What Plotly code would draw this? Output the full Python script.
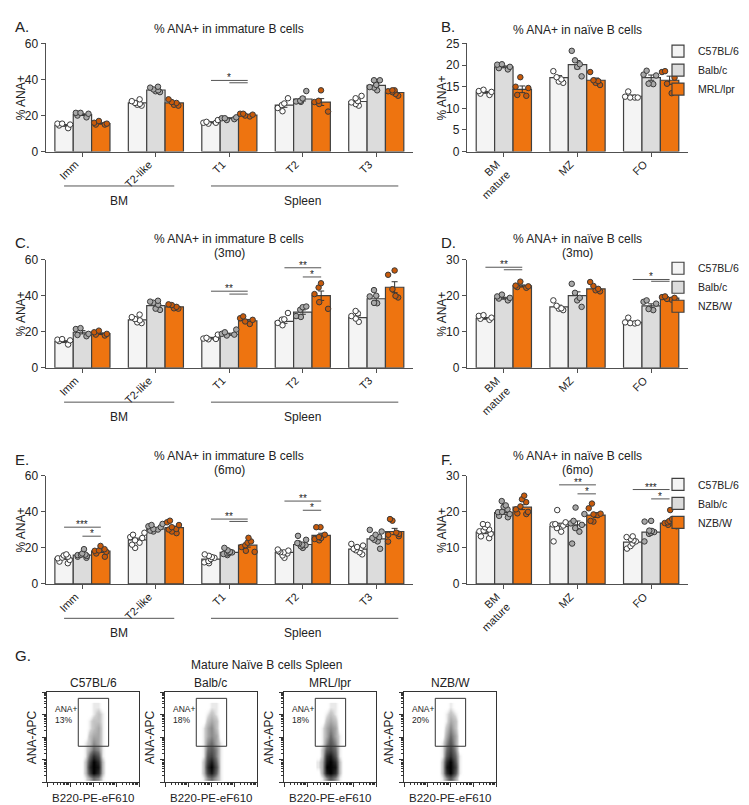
import numpy as np
import plotly.graph_objects as go

W, H = 749, 805
FONT = "Liberation Sans, Arial, sans-serif"

# ---------------- data ----------------
cats_imm = ["Imm", "T2-like", "T1", "T2", "T3"]
cats_naive = ["BM<br>mature", "MZ", "FO"]
strains_mrl = ["C57BL/6", "Balb/c", "MRL/lpr"]
strains_nzb = ["C57BL/6", "Balb/c", "NZB/W"]

# Panel A
A_c57 = [14.5, 27.0, 16.2, 25.8, 27.8]
A_balb = [20.5, 34.2, 18.5, 29.2, 36.8]
A_mrl = [15.6, 27.0, 20.2, 27.5, 32.8]
A_c57_pts = [[15.5, 15, 14.5, 15.5, 13], [29, 28, 27, 26, 25.5, 26.5], [17.5, 16.5, 16, 16, 15.5],
             [29.6, 26.7, 25.8, 24.2, 22.4], [30.9, 29.6, 28, 27.3, 26.4, 25.5]]
A_balb_pts = [[21.5, 21.5, 21, 20, 19], [36, 35.5, 34.5, 34, 33.5, 33], [19, 18.5, 18.5, 18, 17.5],
              [33.6, 29.5, 28.2, 27.8, 27.6], [39.6, 39.6, 37, 35.8, 35.5, 34]]
A_mrl_pts = [[17, 16, 15.5, 15, 15], [29, 27.5, 27, 26, 25.5], [21, 21, 20.5, 20, 19.5],
             [34, 28.2, 27.5, 26.4, 22.2], [34, 34, 33.5, 33, 32, 31]]

# Panel B
B_c57 = [13.7, 17.1, 12.8]
B_balb = [19.6, 20.1, 17.1]
B_mrl = [14.4, 16.5, 16.5]
B_c57_pts = [[14.3, 14, 13.8, 13.4, 13.1], [18.6, 17.2, 16.7, 16.2, 15.9], [13.9, 12.7, 12.5, 12.5, 12.5]]
B_balb_pts = [[20.2, 20.1, 19.6, 19.3, 19], [23.3, 21.1, 20.2, 19.6, 17.4], [18.7, 17.8, 17.6, 15.7, 15.6]]
B_mrl_pts = [[17.2, 15, 14.7, 13.1, 12.9], [18.4, 16.5, 16.3, 15.9, 15.4], [18.4, 18.6, 17.1, 15.7, 13.5]]

# Panel C (3mo)
C_c57 = [14.5, 26.6, 16.4, 25.8, 27.8]
C_balb = [19.7, 34.5, 18.6, 30.9, 38.3]
C_nzb = [18.9, 33.8, 26.1, 40.0, 44.7]
C_c57_pts = [[15.9, 15.2, 14.8, 12.9, 15.6], [29.5, 28.1, 27, 26.3, 25.2, 24.8], [18.4, 16.6, 16, 15.8, 16.2],
             [30.4, 26.9, 26.7, 24.9, 23.6], [31.5, 30.2, 28.7, 27.3, 25.5]]
C_balb_pts = [[22, 21.5, 18.8, 18.2, 17.5], [37.2, 36.7, 36.1, 35, 32.8, 32.1], [21.2, 19.7, 18.4, 17.9, 18.8],
              [34, 33.6, 32.2, 28.7, 28.2], [43.1, 40, 39.6, 36, 35.8]]
C_nzb_pts = [[20.6, 19.7, 18.8, 18.4, 17.9], [35.2, 34.8, 33.8, 33, 32.8], [28.5, 27.5, 26.6, 25.7, 24.3],
             [46.9, 44.5, 40.9, 36.4, 32.7], [54, 51.6, 43.6, 39.9, 39]]

# Panel D (3mo)
D_c57 = [13.7, 16.9, 12.6]
D_balb = [19.3, 20.0, 17.2]
D_nzb = [22.7, 21.9, 19.3]
D_c57_pts = [[14.6, 14.4, 13.9, 13.3, 13.6], [18.7, 17.2, 16.5, 16, 16.4], [13.9, 12.6, 12.4, 12.3, 12.5]]
D_balb_pts = [[20.3, 19.8, 19.2, 18.7, 19.4], [23.3, 20.8, 19.4, 18.7, 16.9], [18.7, 18.3, 17.8, 16.3, 16]]
D_nzb_pts = [[23.9, 22.8, 22.4, 22.6, 22.2], [23.8, 22.7, 21.9, 21.2, 21.5], [19.8, 19.6, 19.4, 18.9, 19.1]]

# Panel E (6mo)
E_c57 = [14.2, 24.4, 13.8, 17.5, 19.3]
E_balb = [16.0, 30.5, 17.5, 21.9, 25.0]
E_nzb = [18.2, 31.2, 21.5, 27.0, 29.1]
E_c57_pts = [[16.4, 15.8, 15.1, 14.6, 14.2, 13.3, 12.4, 11.5], [28.4, 27.3, 26, 25.5, 24.2, 22.9, 21.8, 20],
             [16.4, 15.6, 14.9, 14.5, 13.8, 12.7, 12, 11.5], [19.1, 18.5, 18.2, 17.6, 16.9, 15.8, 14.5, 17.5],
             [22.2, 21.3, 20.5, 20, 18.7, 17.6, 16.4, 19.5]]
E_balb_pts = [[19.3, 16.9, 16.3, 16, 15.5, 15.1, 14.5, 16.2], [33.3, 32.7, 32, 31.5, 30.2, 29.6, 29.1, 30.5],
              [20, 18.7, 17.8, 17.5, 16.9, 16.6, 16, 17.2], [26.7, 24.5, 22.7, 21.8, 20.9, 20, 21.5, 22.5],
              [30, 29.1, 27.3, 26, 23.6, 19.5, 24.5, 25.5]]
E_nzb_pts = [[21.1, 19.3, 18.4, 17.8, 16.9, 15.1, 18.6], [35.1, 34.2, 32.7, 31.5, 30.2, 29.1, 28.2, 30.5],
             [25.6, 23.6, 22.9, 20.5, 18.4, 17.8, 21.5], [31.5, 31.5, 27.3, 26, 24.9, 25.5, 24.2],
             [36, 35.1, 27.8, 26.5, 27.3, 28.5, 23.5]]

# Panel F (6mo)
F_c57 = [14.4, 16.0, 11.6]
F_balb = [19.8, 16.4, 14.4]
F_nzb = [21.3, 19.1, 16.9]
F_c57_pts = [[16.6, 16.4, 15.7, 15.1, 14.6, 13.9, 13.2, 12.7, 14.8], [20.5, 17.1, 16.6, 16.2, 15.5, 14.5, 11.8, 16.5],
             [13.2, 13, 12.1, 11.8, 11.2, 10.5, 9.8, 12.5]]
F_balb_pts = [[23, 21.8, 21.4, 20.7, 20, 19.4, 18.9, 18.5, 19.9], [21.2, 19.4, 17.5, 16.4, 15.5, 14.5, 11.2, 16.8],
              [17.5, 17.3, 14.8, 14.4, 13.9, 11.8, 14.2, 14.7]]
F_nzb_pts = [[24.5, 23.5, 22.7, 20.7, 20, 19.6, 19.4, 21.5], [22.3, 21, 19.5, 19.3, 19.1, 17.5, 17.3],
             [20.5, 18, 17.5, 16.9, 16.4, 16, 17.1]]

# significance: (category index, long-line value, long label, short-line value, short label)
A_sig = [(2, 39.5, "*", 38.2, "")]
C_sig = [(2, 42.5, "**", 40.9, ""), (3, 55.5, "**", 50.4, "*")]
D_sig = [(0, 27.9, "**", 27.2, ""), (2, 24.5, "*", 24.0, "")]
E_sig = [(0, 31.5, "***", 26.5, "*"), (2, 36.0, "**", 34.7, ""), (3, 46.0, "**", 40.9, "*")]
F_sig = [(1, 27.5, "**", 25.0, "*"), (2, 26.2, "***", 23.6, "*")]

# flow cytometry density grids, rows bottom -> top
flow_names = ["C57BL/6", "Balb/c", "MRL/lpr", "NZB/W"]
flow_pct = ["13%", "18%", "18%", "20%"]
flow_cols = [0.375, 0.42, 0.465, 0.51, 0.555, 0.60, 0.645]
flow_rows = [0.05, 0.11, 0.17, 0.23, 0.29, 0.36, 0.44, 0.52, 0.60, 0.68, 0.76, 0.84]
flow_c57 = [[0, 1, 3, 5, 4, 1, 0], [0, 2, 7, 10, 8, 2, 0], [0, 2, 8, 10, 9, 2, 0], [0, 2, 7, 10, 8, 2, 0],
            [0, 1, 5, 8, 6, 1, 0], [0, 1, 3, 5, 4, 1, 0], [0, 1, 2, 4, 3, 1, 0], [0, 0, 2, 3, 3, 1, 0],
            [0, 0, 1, 2, 3, 1, 0], [0, 0, 1, 2, 2, 1, 0], [0, 0, 0, 1, 2, 1, 0], [0, 0, 0, 1, 1, 0, 0]]
flow_balb = [[0, 1, 4, 5, 3, 1, 0], [0, 2, 7, 9, 5, 1, 0], [0, 2, 8, 10, 6, 1, 0], [0, 2, 7, 9, 5, 1, 0],
             [0, 1, 6, 7, 4, 1, 0], [0, 1, 5, 6, 4, 1, 0], [0, 1, 4, 5, 3, 1, 0], [0, 1, 3, 4, 3, 0, 0],
             [0, 1, 3, 4, 2, 0, 0], [0, 0, 2, 3, 2, 0, 0], [0, 0, 1, 2, 1, 0, 0], [0, 0, 0, 1, 1, 0, 0]]
flow_mrl = [[0, 1, 4, 6, 4, 1, 0], [0, 3, 9, 10, 8, 2, 0], [1, 3, 10, 10, 9, 2, 0], [1, 3, 9, 10, 8, 2, 0],
            [0, 2, 8, 9, 6, 1, 0], [0, 2, 6, 7, 5, 1, 0], [0, 1, 4, 6, 4, 1, 0], [0, 1, 3, 5, 3, 1, 0],
            [0, 1, 3, 4, 3, 0, 0], [0, 0, 2, 3, 2, 0, 0], [0, 0, 1, 2, 1, 0, 0], [0, 0, 0, 1, 1, 0, 0]]
flow_nzb = [[0, 1, 4, 6, 3, 0, 0], [0, 2, 8, 10, 6, 1, 0], [0, 2, 9, 10, 7, 1, 0], [0, 2, 8, 10, 6, 1, 0],
            [0, 1, 6, 8, 5, 1, 0], [0, 1, 5, 7, 4, 0, 0], [0, 1, 4, 6, 3, 0, 0], [0, 0, 3, 5, 3, 0, 0],
            [0, 0, 2, 4, 2, 0, 0], [0, 0, 1, 3, 2, 0, 0], [0, 0, 1, 2, 1, 0, 0], [0, 0, 0, 1, 0, 0, 0]]

# ---------------- style ----------------
BAR_FILL = ["#f4f4f4", "#dcdcdc", "#ee7410"]
DOT_FILL = ["#ffffff", "#a8a8a8", "#c85a0a"]
AXC = "#505050"
TXT = "#222222"


def px(x):
    return x / W


def py(y):
    return 1 - y / H


def txt(x, y, t, size=12, **kw):
    d = dict(xref="paper", yref="paper", x=px(x), y=py(y), text=t, showarrow=False,
             xanchor="center", yanchor="middle", font=dict(size=size, color=TXT))
    d.update(kw)
    return d


fig = go.Figure()
layout = dict(width=W, height=H, margin=dict(l=0, r=0, t=0, b=0),
              paper_bgcolor="white", plot_bgcolor="white",
              barmode="group", bargap=0.25, bargroupgap=0,
              boxmode="group", boxgap=0.25, boxgroupgap=0,
              font=dict(family=FONT, size=12, color=TXT),
              showlegend=True)
shapes = []
annots = []

LEFT = (37.7, 405)
RIGHT = (459, 680)
ROWS = [(29, 139), (249, 359), (469, 579)]


def add_panel(i, cats, means, pts, strains, xr, yr, yrange, ytick, sig, legend_name=None):
    xa, ya = f"x{i}", f"y{i}"
    for k in range(3):
        sem = [float(np.std(p, ddof=1) / np.sqrt(len(p))) for p in pts[k]]
        fig.add_trace(go.Bar(
            x=cats, y=means[k], name=strains[k], xaxis=xa, yaxis=ya,
            offsetgroup=str(k),
            marker=dict(color=BAR_FILL[k], line=dict(color="#404040", width=1.2)),
            error_y=dict(type="data", array=sem, visible=True, color="#333", thickness=1, width=3),
            showlegend=legend_name is not None,
            legend=legend_name if legend_name else "legend",
            hoverinfo="skip"))
    for k in range(3):
        xs, ys = [], []
        for c, p in zip(cats, pts[k]):
            xs += [c] * len(p)
            ys += list(p)
        fig.add_trace(go.Box(
            x=xs, y=ys, xaxis=xa, yaxis=ya, offsetgroup=str(k),
            boxpoints="all", jitter=0.85, pointpos=0,
            line=dict(width=0, color="rgba(0,0,0,0)"), fillcolor="rgba(0,0,0,0)",
            marker=dict(size=5.5, color=DOT_FILL[k], line=dict(color="#3a3a3a", width=1)),
            showlegend=False, hoverinfo="skip"))
    layout[f"xaxis{i}"] = dict(domain=[px(xr[0]), px(xr[1])], anchor=ya, type="category",
                               categoryorder="array", categoryarray=cats,
                               range=[-0.5, len(cats) - 0.5], showline=True, linecolor=AXC,
                               linewidth=1.3, ticks="outside", ticklen=4, tickcolor=AXC,
                               tickangle=-45, tickfont=dict(size=11), showgrid=False, zeroline=False,
                               ticklabelshift=-7, ticklabelstandoff=-3)
    layout[f"yaxis{i}"] = dict(domain=[py(yr[1]), py(yr[0])], anchor=xa, range=yrange,
                               tickvals=ytick, showline=True, linecolor=AXC, linewidth=1.3,
                               ticks="outside", ticklen=4, tickcolor=AXC, tickfont=dict(size=12),
                               showgrid=False, zeroline=False)
    for (ci, v1, l1, v2, l2) in sig:
        shapes.append(dict(type="line", xref=xa, yref=ya, x0=ci - 0.25, x1=ci + 0.25, y0=v1, y1=v1,
                           line=dict(color="#555", width=1)))
        shapes.append(dict(type="line", xref=xa, yref=ya, x0=ci, x1=ci + 0.25, y0=v2, y1=v2,
                           line=dict(color="#555", width=1)))
        if l1:
            annots.append(dict(xref=xa, yref=ya, x=ci, y=v1, text=l1, showarrow=False,
                               xanchor="center", yanchor="bottom", yshift=-5,
                               font=dict(size=10, color=TXT)))
        if l2:
            annots.append(dict(xref=xa, yref=ya, x=ci + 0.125, y=v2, text=l2, showarrow=False,
                               xanchor="center", yanchor="bottom", yshift=-5,
                               font=dict(size=10, color=TXT)))
    annots.append(txt(xr[0] - 25, (yr[0] + yr[1]) / 2, "% ANA+", 12, textangle=-90))


def add_groups(i, yr):
    xa = f"x{i}"
    yl = yr[1] + 35
    for (a, b, t, c) in [(-0.25, 1.25, "BM", 0.5), (1.75, 4.3, "Spleen", 3.0)]:
        shapes.append(dict(type="line", xref=xa, yref="paper", x0=a, x1=b, y0=py(yl), y1=py(yl),
                           line=dict(color="#555", width=1)))
        annots.append(dict(xref=xa, yref="paper", x=c, y=py(yl + 15), text=t, showarrow=False,
                           xanchor="center", yanchor="middle", font=dict(size=12, color=TXT)))


def title(xr, ytop, lines):
    cx = (xr[0] + xr[1]) / 2
    for j, t in enumerate(lines):
        annots.append(txt(cx, ytop + 14 * j, t, 12))


def letter(x, y, t):
    annots.append(txt(x, y, t, 15, xanchor="left"))


add_panel(1, cats_imm, [A_c57, A_balb, A_mrl], [A_c57_pts, A_balb_pts, A_mrl_pts], strains_mrl,
          LEFT, ROWS[0], [0, 60], [0, 20, 40, 60], A_sig)
add_panel(2, cats_naive, [B_c57, B_balb, B_mrl], [B_c57_pts, B_balb_pts, B_mrl_pts], strains_mrl,
          RIGHT, ROWS[0], [0, 25], [0, 5, 10, 15, 20, 25], [], "legend")
add_panel(3, cats_imm, [C_c57, C_balb, C_nzb], [C_c57_pts, C_balb_pts, C_nzb_pts], strains_nzb,
          LEFT, ROWS[1], [0, 60], [0, 20, 40, 60], C_sig)
add_panel(4, cats_naive, [D_c57, D_balb, D_nzb], [D_c57_pts, D_balb_pts, D_nzb_pts], strains_nzb,
          RIGHT, ROWS[1], [0, 30], [0, 10, 20, 30], D_sig, "legend2")
add_panel(5, cats_imm, [E_c57, E_balb, E_nzb], [E_c57_pts, E_balb_pts, E_nzb_pts], strains_nzb,
          LEFT, ROWS[2], [0, 60], [0, 20, 40, 60], E_sig)
add_panel(6, cats_naive, [F_c57, F_balb, F_nzb], [F_c57_pts, F_balb_pts, F_nzb_pts], strains_nzb,
          RIGHT, ROWS[2], [0, 30], [0, 10, 20, 30], F_sig, "legend3")

add_groups(1, ROWS[0])
add_groups(3, ROWS[1])
add_groups(5, ROWS[2])

title(LEFT, 14, ["% ANA+ in immature B cells"])
title(RIGHT, 15, ["% ANA+ in naïve B cells"])
title(LEFT, 228, ["% ANA+ in immature B cells", "(3mo)"])
title(RIGHT, 228, ["% ANA+ in naïve B cells", "(3mo)"])
title(LEFT, 449, ["% ANA+ in immature B cells", "(6mo)"])
title(RIGHT, 449, ["% ANA+ in naïve B cells", "(6mo)"])
letter(5, 12, "A.")
letter(431, 12, "B.")
letter(5, 232, "C.")
letter(431, 232, "D.")
letter(5, 452, "E.")
letter(431, 452, "F.")
letter(5, 652, "G.")

for j, (lg, ytop) in enumerate([("legend", 22), ("legend2", 243), ("legend3", 463)]):
    layout[lg] = dict(x=px(650), y=py(ytop), xanchor="left", yanchor="top",
                      bgcolor="rgba(0,0,0,0)", font=dict(size=10.5, color=TXT), itemwidth=30,
                      tracegroupgap=0)

# ---------------- flow plots ----------------
flow_grids = [flow_c57, flow_balb, flow_mrl, flow_nzb]
flow_x0 = [39, 157, 276, 396]
FY = (689, 781)
major = [0, 0.25, 0.5, 0.75, 1.0]
minor = [d * 0.25 + 0.25 * np.log10(m) for d in range(4) for m in range(2, 10)]
cscale = [[0, "rgba(255,255,255,0)"], [0.15, "rgba(90,90,90,0.3)"], [0.5, "rgba(40,40,40,0.7)"],
          [1, "rgba(0,0,0,1)"]]
annots.append(txt(258, 662, "Mature Naïve B cells Spleen", 12))
for j in range(4):
    i = 7 + j
    xa, ya = f"x{i}", f"y{i}"
    x0 = flow_x0[j]
    fig.add_trace(go.Heatmap(x=flow_cols, y=flow_rows, z=flow_grids[j], xaxis=xa, yaxis=ya,
                             zsmooth="best", colorscale=cscale, zmin=0, zmax=10, showscale=False,
                             hoverinfo="skip"))
    ax = dict(range=[0, 1], showline=True, mirror=True, linecolor="#333", linewidth=1,
              ticks="outside", ticklen=4, tickcolor="#333", tickmode="array", tickvals=major,
              showticklabels=False, showgrid=False, zeroline=False,
              minor=dict(tickmode="array", tickvals=minor, ticks="outside", ticklen=2, tickcolor="#333"))
    layout[f"xaxis{i}"] = dict(domain=[px(x0), px(x0 + 92)], anchor=ya, **ax)
    layout[f"yaxis{i}"] = dict(domain=[py(FY[1]), py(FY[0])], anchor=xa, **ax)
    shapes.append(dict(type="rect", xref=xa, yref=ya, x0=0.34, x1=0.67, y0=0.40, y1=0.93,
                       line=dict(color="#333", width=1)))
    annots.append(dict(xref=xa, yref=ya, x=0.06, y=0.89, text="ANA+<br>" + flow_pct[j], showarrow=False,
                       xanchor="left", yanchor="top", align="left", font=dict(size=8.5, color=TXT)))
    annots.append(txt(x0 + 46, 680, flow_names[j], 12))
    annots.append(txt(x0 + 46, 797, "B220-PE-eF610", 11.5))
    annots.append(txt(x0 - 15, 735, "ANA-APC", 12, textangle=-90))

layout["shapes"] = shapes
layout["annotations"] = annots
fig.update_layout(**layout)
fig.write_html("out.html")
